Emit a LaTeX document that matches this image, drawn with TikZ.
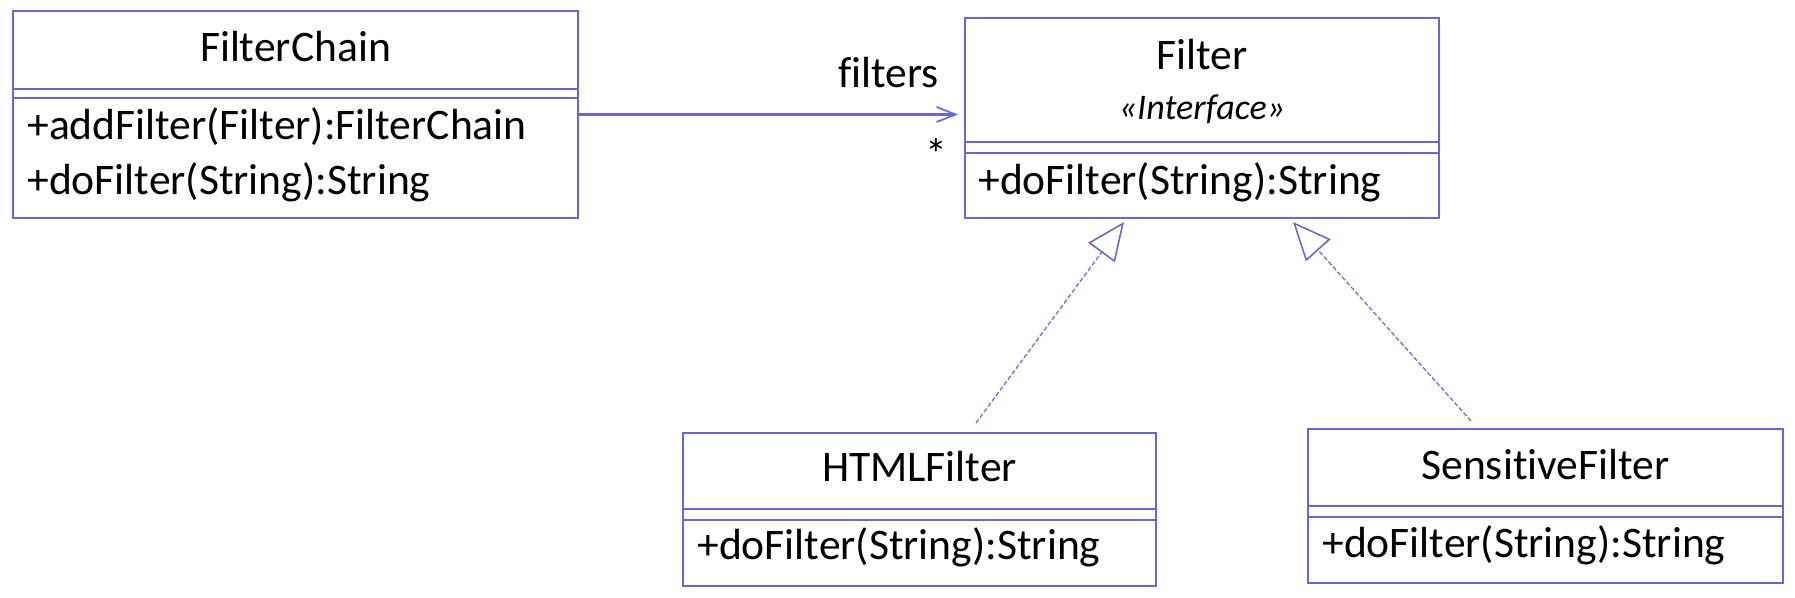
\documentclass[tikz,border=0pt]{standalone}
\usepackage{fontspec}
\setmainfont{Carlito}[Ligatures=NoCommon]
\usetikzlibrary{arrows.meta}
\usetikzlibrary{positioning}
\definecolor{umlblue}{RGB}{104,104,206}
\tikzset{
  cls/.style={draw=umlblue, line width=0.85pt, inner sep=0, outer sep=0},
  sep/.style={draw=umlblue, line width=0.85pt},
  txt/.style={inner sep=0},
  assoc/.style={draw=umlblue, line width=1.2pt, -{Straight Barb[length=0.38cm, width=0.3cm, line width=1pt]}},
  real/.style={draw=umlblue, line width=0.7pt, dash pattern=on 0.09cm off 0.045cm,
    -{Triangle[open, length=0.76cm, width=0.66cm, line width=0.9pt]}},
}

\begin{document}
\begin{tikzpicture}[font=\fontsize{24.8}{30}\selectfont]
  \useasboundingbox (0,0) rectangle (35.9,-11.96);

  % FilterChain
  \node[cls, minimum width=11.3cm, minimum height=4.14cm] at (5.91,-2.29) (fc) {};
  \node[txt, anchor=base] at (5.91,-1.24) (fcname) {FilterChain};
  \draw[sep] (fc.west |- 0,-1.78) -- (fc.east |- 0,-1.78);
  \draw[sep] (fc.west |- 0,-1.96) -- (fc.east |- 0,-1.96);
  \node[txt, anchor=base west] at (0.54,-2.80) (fcadd) {+addFilter(Filter):FilterChain};
  \node[txt, anchor=base west] at (0.54,-3.90) (fcdo) {+doFilter(String):String};

  % Filter
  \node[cls, minimum width=9.48cm, minimum height=4.0cm] at (24.04,-2.36) (f) {};
  \node[txt, anchor=base] at (24.04,-1.40) (fname) {Filter};
  \node[txt, anchor=base, font=\fontsize{20.5}{24}\selectfont\itshape] at (24.04,-2.40) (fst) {«Interface»};
  \draw[sep] (f.west |- 0,-2.84) -- (f.east |- 0,-2.84);
  \draw[sep] (f.west |- 0,-3.06) -- (f.east |- 0,-3.06);
  \node[txt, anchor=base west] at (19.56,-3.90) (fdo) {+doFilter(String):String};

  % HTMLFilter
  \node[cls, minimum width=9.46cm, minimum height=3.06cm] at (18.39,-10.19) (h) {};
  \node[txt, anchor=base] at (18.39,-9.64) (hname) {HTMLFilter};
  \draw[sep] (h.west |- 0,-10.18) -- (h.east |- 0,-10.18);
  \draw[sep] (h.west |- 0,-10.40) -- (h.east |- 0,-10.40);
  \node[txt, anchor=base west] at (13.94,-11.20) (hdo) {+doFilter(String):String};

  % SensitiveFilter
  \node[cls, minimum width=9.5cm, minimum height=3.08cm] at (30.91,-10.12) (s) {};
  \node[txt, anchor=base] at (30.91,-9.60) (sname) {SensitiveFilter};
  \draw[sep] (s.west |- 0,-10.12) -- (s.east |- 0,-10.12);
  \draw[sep] (s.west |- 0,-10.34) -- (s.east |- 0,-10.34);
  \node[txt, anchor=base west] at (26.44,-11.16) (sdo) {+doFilter(String):String};

  % links
  \draw[assoc] (fc.east) -- ([xshift=-0.14cm]f.west |- fc.east);
  \node[txt, anchor=base east] at (18.78,-1.76) (role) {filters};
  \node[txt, anchor=base east] at (18.95,-3.40) (mult) {*};
  \draw[real] ([xshift=1.13cm, yshift=0.2cm]h.north) -- ([xshift=-1.56cm, yshift=-0.08cm]f.south);
  \draw[real] ([xshift=-1.49cm, yshift=0.16cm]s.north) -- ([xshift=1.82cm, yshift=-0.08cm]f.south);
\end{tikzpicture}
\end{document}
